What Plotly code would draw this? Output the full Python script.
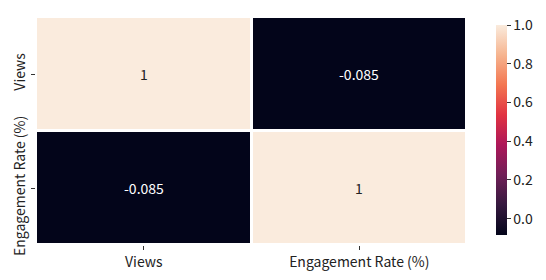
import plotly.graph_objects as go

labels = ["Views", "Engagement Rate (%)"]
corr = [[1.0, -0.085], [-0.085, 1.0]]
text_labels = [["1", "-0.085"], ["-0.085", "1"]]

rocket = [[0.0, "#03051a"], [1/7, "#35193e"], [2/7, "#701f57"], [3/7, "#ad1759"],
          [4/7, "#e13342"], [5/7, "#f37651"], [6/7, "#f6b48f"], [1.0, "#faebdd"]]

FONT = "Noto Sans CJK SC"
FS = 14
fig = go.Figure(go.Heatmap(
    z=corr, x=labels, y=labels, colorscale=rocket, zmin=-0.085, zmax=1.0,
    xgap=3, ygap=3, hoverinfo="skip",
    colorbar=dict(thickness=11, lenmode="pixels", len=230, x=1.067, xanchor="left",
                  xpad=0, y=0.504, yanchor="middle", outlinewidth=0,
                  tickvals=[0, 0.2, 0.4, 0.6, 0.8, 1.0],
                  ticktext=["0.0", "0.2", "0.4", "0.6", "0.8", "1.0"],
                  ticks="outside", ticklen=4, tickcolor="#333",
                  tickfont=dict(family=FONT, size=FS, color="#222")),
))

annos = []
for i, row in enumerate(corr):
    for j, v in enumerate(row):
        annos.append(dict(x=labels[j], y=labels[i], text=text_labels[i][j], showarrow=False,
                          font=dict(family=FONT, size=FS,
                                    color="#222" if v > 0.5 else "white")))

fig.update_layout(
    width=546, height=280, margin=dict(l=36, r=79, t=17, b=35, autoexpand=False),
    paper_bgcolor="white", plot_bgcolor="white",
    font=dict(family=FONT, size=FS, color="#222"),
    annotations=annos,
    xaxis=dict(showgrid=False, zeroline=False, ticks="outside", ticklen=4, tickcolor="#333",
               tickfont=dict(family=FONT, size=FS, color="#222")),
    yaxis=dict(showgrid=False, zeroline=False, autorange="reversed", tickangle=-90,
               ticks="outside", ticklen=4, tickcolor="#333",
               tickfont=dict(family=FONT, size=FS, color="#222")),
)
fig.write_html("out.html")
